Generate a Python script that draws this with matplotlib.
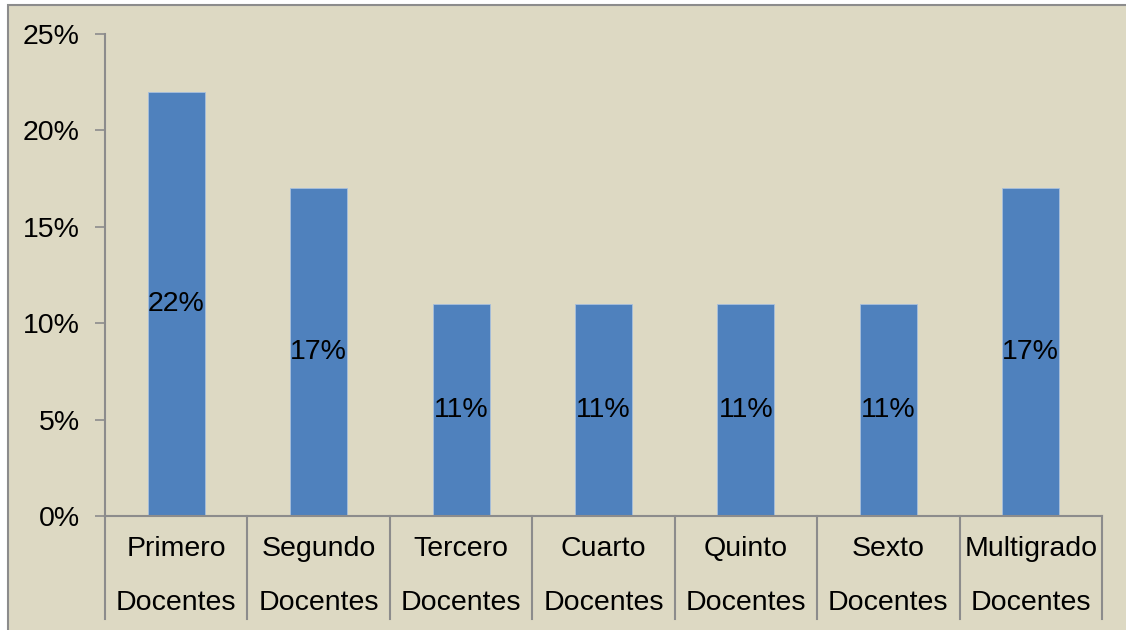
import matplotlib
matplotlib.use("Agg")
import matplotlib.pyplot as plt
from matplotlib.patches import Rectangle
import matplotlib.transforms as mtransforms

# data
grados = ["Primero", "Segundo", "Tercero", "Cuarto", "Quinto", "Sexto", "Multigrado"]
grupo = "Docentes"
porcentajes = [22, 17, 11, 11, 11, 11, 17]
y_ticks = [0, 5, 10, 15, 20, 25]

bg = "#DDD9C3"
bar_color = "#4F81BD"
line_color = "#8C8C8C"
fs = 20.5

plt.rcParams["font.family"] = ["Liberation Sans", "DejaVu Sans"]

fig = plt.figure(figsize=(11.26, 6.3), dpi=100, facecolor="white")
# framed background of the chart
fig.add_artist(Rectangle((8 / 1126, -0.1), 1.2, 1 - 5 / 630 + 0.1, transform=fig.transFigure,
                         facecolor=bg, edgecolor=line_color, linewidth=1.5, zorder=-1))

ax = fig.add_axes([105 / 1126, 1 - 516 / 630, (1102 - 105) / 1126, (516 - 34) / 630])
ax.set_facecolor(bg)
ax.patch.set_alpha(0)

n = len(grados)
x = [i + 0.5 for i in range(n)]
ax.bar(x, porcentajes, width=0.4, color=bar_color, edgecolor="#A7C0DE", linewidth=0.6)

for xi, v in zip(x, porcentajes):
    ax.text(xi, v / 2, f"{v}%", ha="center", va="center", fontsize=fs, color="black")

ax.set_xlim(0, n)
ax.set_ylim(0, 25)
ax.set_yticks(y_ticks)
ax.set_yticklabels([f"{t}%" for t in y_ticks], fontsize=fs)
ax.tick_params(axis="y", length=7, width=1.2, color=line_color, pad=11)
ax.set_xticks([])

for s in ["top", "right"]:
    ax.spines[s].set_visible(False)
for s in ["left", "bottom"]:
    ax.spines[s].set_color(line_color)
    ax.spines[s].set_linewidth(1.5)

# two-level category labels with separators
trans = mtransforms.blended_transform_factory(ax.transData, ax.transAxes)
for i in range(n + 1):
    ax.plot([i, i], [0, -0.214], transform=trans, color=line_color, linewidth=1.5, clip_on=False)
for xi, g in zip(x, grados):
    ax.text(xi, -0.068, g, transform=trans, ha="center", va="center", fontsize=fs)
    ax.text(xi, -0.18, grupo, transform=trans, ha="center", va="center", fontsize=fs)

fig.savefig("out.png", dpi=100, facecolor="white")
